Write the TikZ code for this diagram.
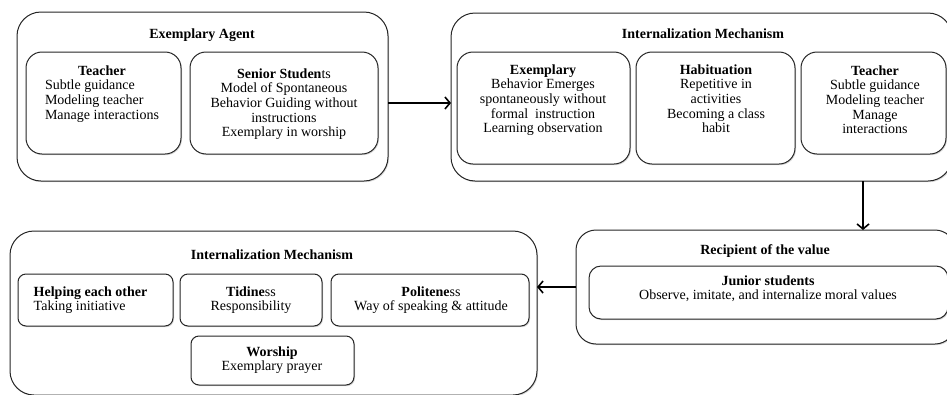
\documentclass[tikz,border=0pt]{standalone}
\usepackage{fontspec}
\setmainfont{Liberation Serif}
\usetikzlibrary{arrows.meta,shadows}
\newcommand\stk[2][c]{\begin{tabular}[t]{@{}#1@{}}#2\end{tabular}}
\begin{document}
\begin{tikzpicture}[x=1pt,y=-1pt,
  box/.style={draw=black!85, line width=1pt, inner sep=0pt, outer sep=0pt, fill=white,
    drop shadow={shadow xshift=1pt,shadow yshift=-1.2pt,opacity=0.3}},
  obox/.style={box, rounded corners=24pt},
  ibox/.style={box, rounded corners=16pt},
  sbox/.style={box, rounded corners=8pt},
  txt/.style={anchor=base, inner sep=0pt, font=\fontsize{14}{14.7}\selectfont},
  txts/.style={anchor=base, inner sep=0pt, font=\fontsize{14}{14}\selectfont},
  ttl/.style={anchor=base, inner sep=0pt, font=\fontsize{14}{14.7}\selectfont\bfseries},
  arr/.style={line width=1.6pt, -{Straight Barb[length=5pt,width=12pt,line width=1.6pt]}}]
\useasboundingbox (0,0) rectangle (947,394);

% Exemplary Agent
\node[obox, minimum width=371pt, minimum height=169pt] (agent) at (202.5,96.5) {};
\node[ttl] (agentT) at (202,38) {Exemplary Agent};
\node[ibox, minimum width=155pt, minimum height=102pt] (aT) at (103.5,103) {};
\node[txt] (aTt) at (102,75) {\stk[l]{\multicolumn{1}{@{}c@{}}{\textbf{Teacher}}\\Subtle guidance\\Modeling teacher\\Manage interactions}};
\node[ibox, minimum width=188pt, minimum height=102pt] (aS) at (284,103) {};
\node[txt] (aSt) at (284,78) {\stk{\textbf{Senior Studen}ts\\Model of Spontaneous\\Behavior Guiding without\\instructions\\Exemplary in worship}};

% Internalization Mechanism (top)
\node[obox, minimum width=501pt, minimum height=168pt] (mech) at (701.5,97) {};
\node[ttl] (mechT) at (703,38) {Internalization Mechanism};
\node[ibox, minimum width=173pt, minimum height=112pt] (mE) at (543.5,108) {};
\node[txt] (mEt) at (543,74) {\stk{\textbf{Exemplary}\\Behavior Emerges\\spontaneously without\\formal\ \ instruction\\Learning observation}};
\node[ibox, minimum width=159pt, minimum height=112pt] (mH) at (715.5,108) {};
\node[txt] (mHt) at (716,74) {\stk{\textbf{Habituation}\\Repetitive in\\activities\\Becoming a class\\habit}};
\node[ibox, minimum width=145pt, minimum height=102pt] (mT) at (873.5,103) {};
\node[txt] (mTt) at (875,75) {\stk{\textbf{Teacher}\\Subtle guidance\\Modeling teacher\\Manage\\interactions}};

% Recipient of the value
\node[obox, rounded corners=20pt, minimum width=379pt, minimum height=114pt] (rec) at (765.5,287) {};
\node[ttl] (recT) at (765,254) {Recipient of the value};
\node[ibox, rounded corners=12pt, minimum width=359pt, minimum height=53pt] (rJ) at (768.5,292.5) {};
\node[txts] (rJt) at (768,285) {\stk{\textbf{Junior students}\\Observe, imitate, and internalize moral values}};

% Internalization Mechanism (bottom)
\node[obox, minimum width=527pt, minimum height=164pt] (inter) at (273.5,313) {};
\node[ttl] (interT) at (272,259) {Internalization Mechanism};
\node[sbox, minimum width=155pt, minimum height=52pt] (iH) at (95.5,300) {};
\node[txts] (iHt) at (90.5,296) {\stk[l]{\textbf{Helping each other}\\Taking initiative}};
\node[sbox, minimum width=142pt, minimum height=52pt] (iT) at (251,300) {};
\node[txts] (iTt) at (251,296) {\stk{\textbf{Tidine}ss\\Responsibility}};
\node[sbox, minimum width=198pt, minimum height=52pt] (iP) at (430,300) {};
\node[txts] (iPt) at (431,296) {\stk{\textbf{Politene}ss\\Way of speaking \& attitude}};
\node[sbox, minimum width=163pt, minimum height=49pt] (iW) at (272.5,360.5) {};
\node[txts] (iWt) at (272,356) {\stk{\textbf{Worship}\\Exemplary prayer}};

% connectors
\coordinate (dx) at (863,0);
\draw[arr] (agent.east |- aT.center) -- (mech.west |- aT.center);
\draw[arr] (mech.south -| dx) -- (rec.north -| dx);
\draw[arr] (rec.west) -- (rec.west -| inter.east);
\end{tikzpicture}
\end{document}
